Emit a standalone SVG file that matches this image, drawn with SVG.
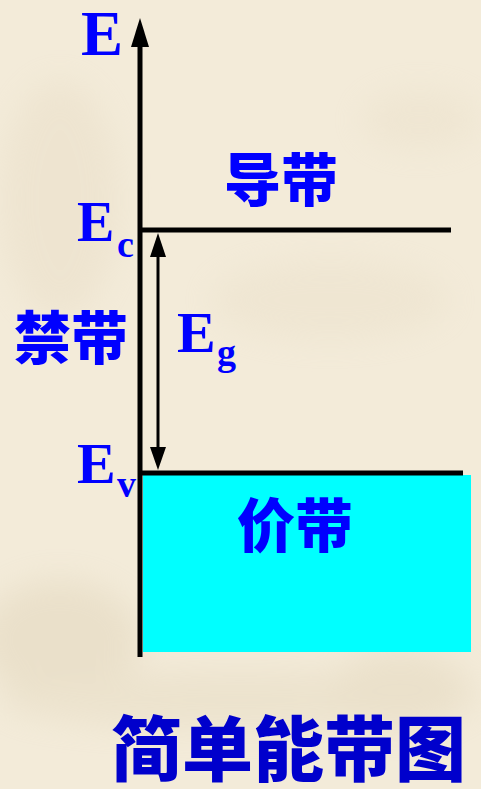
<svg xmlns="http://www.w3.org/2000/svg" width="481" height="789" viewBox="0 0 481 789">
  <defs>
    <style>
      .lat { font-family: "Liberation Serif", "Times New Roman", serif; font-weight: bold; fill: #0000ff; }
      .cjk { font-family: "Noto Sans CJK SC", "Noto Sans", sans-serif; font-weight: 900; fill: #0000ff; }
      .title { fill: #0000cc; }
      .ln { stroke: #000; fill: none; }
    </style>
    <filter id="blur" x="-50%" y="-50%" width="200%" height="200%">
      <feGaussianBlur stdDeviation="16"/>
    </filter>
  </defs>

  <!-- background -->
  <g id="background">
    <rect x="0" y="0" width="481" height="789" fill="#f3ebd9"/>
    <g filter="url(#blur)" opacity="0.3">
      <ellipse cx="60" cy="200" rx="60" ry="120" fill="#e3d6bd"/>
      <ellipse cx="330" cy="300" rx="120" ry="40" fill="#e6dac3"/>
      <ellipse cx="420" cy="120" rx="60" ry="30" fill="#e6dac3"/>
      <ellipse cx="60" cy="640" rx="80" ry="60" fill="#d6c7a8"/>
      <ellipse cx="240" cy="700" rx="240" ry="30" fill="#ddd0b4"/>
      <ellipse cx="400" cy="690" rx="70" ry="40" fill="#d8c9aa"/>
    </g>
  </g>

  <g id="connectors">
    <!-- energy axis -->
    <line class="ln" x1="140" y1="657" x2="140" y2="46" stroke-width="5"/>
    <path d="M140,18 L149,47 L131,47 Z" fill="#000"/>
    <!-- Eg double arrow -->
    <line class="ln" x1="158" y1="255" x2="158" y2="449" stroke-width="3"/>
    <path d="M158,233 L166,257 L150,257 Z" fill="#000"/>
    <path d="M158,470 L166,447 L150,447 Z" fill="#000"/>
  </g>

  <g id="valence-band">
    <rect x="143" y="475" width="328" height="177" fill="#00ffff"/>
    <text class="cjk" x="237" y="547" font-size="58">价带</text>
  </g>

  <g id="conduction-level">
    <line class="ln" x1="140" y1="230" x2="451" y2="230" stroke-width="5"/>
  </g>

  <g id="valence-level">
    <line class="ln" x1="140" y1="473" x2="463" y2="473" stroke-width="5"/>
  </g>

  <g id="conduction-band">
    <text class="cjk" x="224" y="201" font-size="57">导带</text>
  </g>

  <g id="forbidden-band">
    <text class="cjk" x="14" y="359" font-size="57">禁带</text>
  </g>

  <g id="label-E">
    <text class="lat" x="81" y="55" font-size="63">E</text>
  </g>
  <g id="label-Ec">
    <text class="lat" x="77" y="241" font-size="56">E</text>
    <text class="lat" x="117" y="257" font-size="38">c</text>
  </g>
  <g id="label-Eg">
    <text class="lat" x="177" y="352" font-size="58">E</text>
    <text class="lat" x="217" y="365" font-size="38">g</text>
  </g>
  <g id="label-Ev">
    <text class="lat" x="77" y="483" font-size="58">E</text>
    <text class="lat" x="117" y="497" font-size="38">v</text>
  </g>

  <g id="title">
    <text class="cjk title" x="111" y="775" font-size="71">简单能带图</text>
  </g>
</svg>
